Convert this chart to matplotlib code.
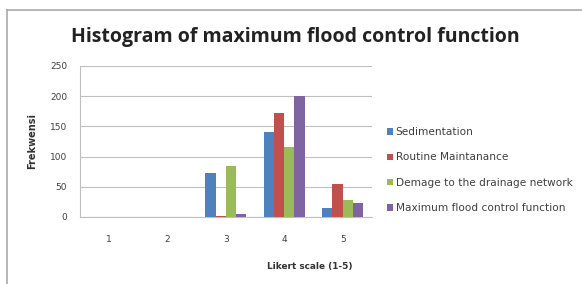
import matplotlib
matplotlib.use("Agg")
import matplotlib.pyplot as plt
from matplotlib.lines import Line2D
import numpy as np

categories = ["1", "2", "3", "4", "5"]
series_names = ["Sedimentation", "Routine Maintanance", "Demage to the drainage network",
                "Maximum flood control function"]
sedimentation = [0, 0, 72, 140, 15]
routine = [0, 0, 1, 172, 55]
damage = [0, 0, 85, 115, 28]
maximum = [0, 0, 5, 200, 23]
colors = ["#4F81BD", "#C0504D", "#9BBB59", "#8064A2"]

fig = plt.figure(figsize=(5.82, 2.84), dpi=100)
fig.patch.set_facecolor("white")
ax = fig.add_axes([0.137, 0.236, 0.502, 0.532])

x = np.arange(len(categories))
w = 0.175
data = [sedimentation, routine, damage, maximum]
for i, (vals, name, c) in enumerate(zip(data, series_names, colors)):
    ax.bar(x + (i - 1.5) * w, vals, width=w, color=c, label=name, zorder=3)

ax.set_ylim(0, 250)
ax.set_xlim(-0.5, 4.5)
ax.set_yticks(range(0, 251, 50))
ax.set_xticks(x)
ax.set_xticklabels(categories)
ax.yaxis.grid(True, color="#BFBFBF", linewidth=0.8, zorder=0)
for s in ["top", "right"]:
    ax.spines[s].set_visible(False)
ax.spines["left"].set_color("#BFBFBF")
ax.spines["bottom"].set_color("#BFBFBF")
ax.tick_params(axis="both", labelsize=6.5, colors="#404040", length=0)
ax.tick_params(axis="x", pad=13)
ax.tick_params(axis="y", pad=9)
ax.set_ylabel("Frekwensi", fontsize=7, fontweight="bold", color="#333333")
ax.yaxis.set_label_coords(-0.145, 0.5)
ax.set_xlabel("Likert scale (1-5)", fontsize=6.4, fontweight="bold", color="#333333")
ax.xaxis.set_label_coords(0.788, -0.295)

fig.text(0.508, 0.87, "Histogram of maximum flood control function", ha="center", va="center",
         fontsize=14, fontweight="bold", color="#222222", family="Open Sans")

ax.legend(loc="center left", bbox_to_anchor=(1.02, 0.31), frameon=False, fontsize=7.6,
          handlelength=0.55, handleheight=0.55, handletextpad=0.25, labelspacing=1.45,
          labelcolor="#404040")

fig.add_artist(Line2D([7 / 582, 1.0], [1 - 10 / 284, 1 - 10 / 284], transform=fig.transFigure,
                      color="#AAAAAA", linewidth=1.2))
fig.add_artist(Line2D([7 / 582, 7 / 582], [1 - 10 / 284, 0], transform=fig.transFigure,
                      color="#AAAAAA", linewidth=1.2))

fig.savefig("out.png", dpi=100)
